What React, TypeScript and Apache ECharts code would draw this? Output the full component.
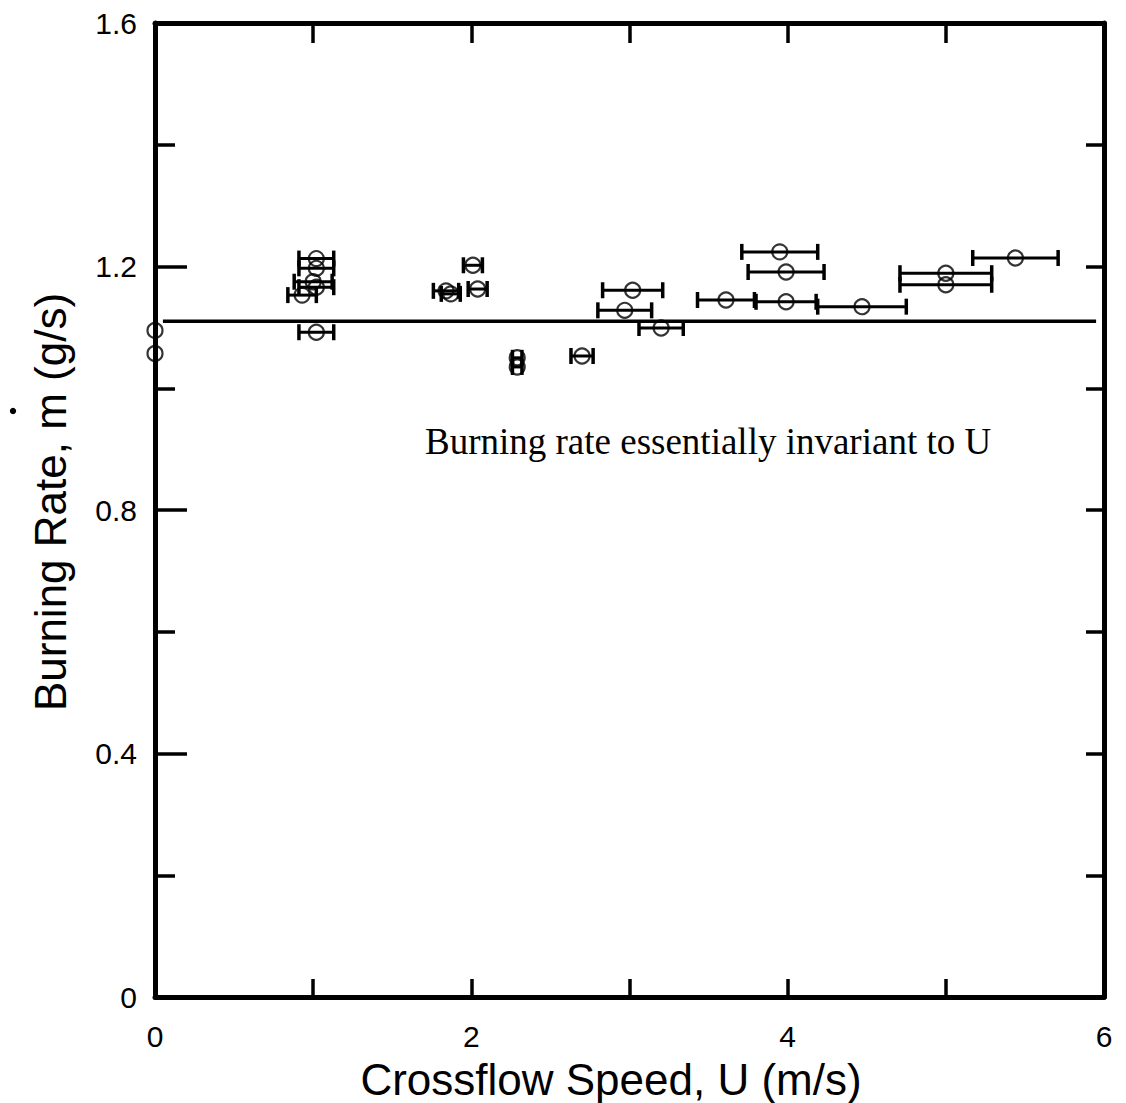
import React, { useEffect, useRef } from "react";
import * as echarts from "echarts";

// Crossflow speed U (m/s)
const speedU = [0.0, 0.0, 1.02, 1.02, 1.0, 1.02, 0.93, 1.02, 2.01, 1.84, 1.87, 2.04, 2.29, 2.29, 2.7, 3.02, 2.97, 3.2, 3.95, 3.99, 3.61, 3.99, 4.47, 5.0, 5.0, 5.44];
// Burning rate (g/s)
const burnRate = [1.095, 1.057, 1.213, 1.197, 1.175, 1.166, 1.153, 1.092, 1.202, 1.16, 1.155, 1.163, 1.05, 1.035, 1.053, 1.161, 1.128, 1.099, 1.224, 1.191, 1.145, 1.142, 1.134, 1.189, 1.17, 1.214];
// Half-width of horizontal error bars (m/s)
const speedErr = [0, 0, 0.11, 0.11, 0.12, 0.11, 0.09, 0.11, 0.06, 0.08, 0.06, 0.06, 0.03, 0.03, 0.07, 0.19, 0.17, 0.14, 0.24, 0.24, 0.18, 0.19, 0.28, 0.29, 0.29, 0.27];

const meanLevel = 1.11;
const meanLineX = [0.05, 5.95];

const xTitle = "Crossflow Speed, U (m/s)";
const yTitle = "Burning Rate, m (g/s)";
const note = "Burning rate essentially invariant to U";

export default function App() {
  const ref = useRef<HTMLDivElement>(null);
  useEffect(() => {
    const chart = echarts.init(ref.current!, null, { renderer: "svg" });
    const points = speedU.map((x, i) => [x, burnRate[i], speedErr[i]]);
    const black = "#000";
    const tickFont = { color: black, fontSize: 30, fontFamily: "Liberation Sans" };
    chart.setOption({
      animation: false,
      backgroundColor: "#fff",
      grid: { left: 155, right: 22, top: 23, bottom: 106 },
      xAxis: [
        {
          type: "value", min: 0, max: 6, interval: 2, position: "bottom",
          axisLine: { onZero: false, lineStyle: { color: black, width: 5 } },
          axisTick: { inside: true, length: 18, lineStyle: { color: black, width: 3.5 } },
          minorTick: { show: true, splitNumber: 2, length: 18, lineStyle: { color: black, width: 3.5 } },
          axisLabel: { ...tickFont, margin: 24, formatter: (v: number) => String(v) },
          splitLine: { show: false },
        },
        {
          type: "value", min: 0, max: 6, interval: 1, position: "top",
          axisLine: { onZero: false, lineStyle: { color: black, width: 5 } },
          axisTick: { inside: true, length: 20, lineStyle: { color: black, width: 3.5 } },
          axisLabel: { show: false },
          splitLine: { show: false },
        },
      ],
      yAxis: [
        {
          type: "value", min: 0, max: 1.6, interval: 0.4, position: "left",
          axisLine: { onZero: false, lineStyle: { color: black, width: 5 } },
          axisTick: { inside: true, length: 32, lineStyle: { color: black, width: 3.5 } },
          minorTick: { show: true, splitNumber: 2, length: 20, lineStyle: { color: black, width: 3.5 } },
          axisLabel: { ...tickFont, margin: 18, formatter: (v: number) => String(Math.round(v * 10) / 10) },
          splitLine: { show: false },
        },
        {
          type: "value", min: 0, max: 1.6, interval: 0.2, position: "right",
          axisLine: { onZero: false, lineStyle: { color: black, width: 5 } },
          axisTick: { inside: true, length: 18, lineStyle: { color: black, width: 3.5 } },
          axisLabel: { show: false },
          splitLine: { show: false },
        },
      ],
      series: [
        {
          type: "line",
          data: [[meanLineX[0], meanLevel], [meanLineX[1], meanLevel]],
          symbol: "none",
          lineStyle: { color: black, width: 3.5 },
          z: 1,
        },
        {
          type: "custom",
          data: points,
          encode: { x: 0, y: 1 },
          z: 2,
          renderItem: (params: any, api: any) => {
            const err = api.value(2);
            if (!err) return null;
            const y = api.value(1);
            const x = api.value(0);
            const lo = api.coord([x - err, y]);
            const hi = api.coord([x + err, y]);
            const h = 8;
            const st = { stroke: black, lineWidth: 3 };
            const cap = { stroke: black, lineWidth: 3.5 };
            return {
              type: "group",
              children: [
                { type: "line", shape: { x1: lo[0], y1: lo[1], x2: hi[0], y2: hi[1] }, style: st },
                { type: "line", shape: { x1: lo[0], y1: lo[1] - h, x2: lo[0], y2: lo[1] + h }, style: cap },
                { type: "line", shape: { x1: hi[0], y1: hi[1] - h, x2: hi[0], y2: hi[1] + h }, style: cap },
              ],
            };
          },
        },
        {
          type: "scatter",
          data: points.map((p) => [p[0], p[1]]),
          symbol: "circle",
          symbolSize: 15,
          itemStyle: { color: "rgba(0,0,0,0)", borderColor: black, borderWidth: 2.2 },
          z: 3,
        },
      ],
      graphic: [
        {
          type: "text", x: 611, y: 1079,
          style: { text: xTitle, fontSize: 44, fontFamily: "Liberation Sans", fill: black, align: "center", verticalAlign: "middle" },
        },
        {
          type: "text", x: 50, y: 502, rotation: Math.PI / 2,
          style: { text: yTitle, fontSize: 44, fontFamily: "Liberation Sans", fill: black, align: "center", verticalAlign: "middle" },
        },
        { type: "circle", shape: { cx: 13, cy: 411, r: 3.2 }, style: { fill: black } },
        {
          type: "text", x: 425, y: 441,
          style: { text: note, fontSize: 37, fontFamily: "Liberation Serif", fill: black, align: "left", verticalAlign: "middle" },
        },
      ],
    });
    return () => chart.dispose();
  }, []);
  return <div ref={ref} style={{ position: "absolute", left: 0, top: 0, width: 1126, height: 1103 }} />;
}
